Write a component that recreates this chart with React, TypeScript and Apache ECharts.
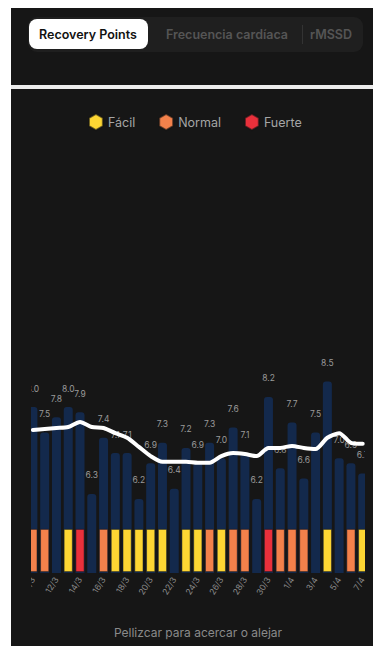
import React, { useEffect, useRef } from "react";
import * as echarts from "echarts";

const dates = [
  "10/3", "11/3", "12/3", "13/3", "14/3", "15/3", "16/3", "17/3", "18/3", "19/3",
  "20/3", "21/3", "22/3", "23/3", "24/3", "25/3", "26/3", "27/3", "28/3", "29/3",
  "30/3", "31/3", "1/4", "2/4", "3/4", "4/4", "5/4", "6/4", "7/4",
];

const recoveryPoints = [
  8.0, 7.5, 7.8, 8.0, 7.9, 6.3, 7.4, 7.1, 7.1, 6.2,
  6.9, 7.3, 6.4, 7.2, 6.9, 7.3, 7.0, 7.6, 7.1, 6.2,
  8.2, 6.8, 7.7, 6.6, 7.5, 8.5, 7.0, 6.9, 6.7,
];

const trend = [
  7.55, 7.57, 7.59, 7.61, 7.71, 7.61, 7.59, 7.49, 7.4, 7.22,
  7.04, 6.93, 6.93, 6.93, 6.91, 6.91, 7.04, 7.1, 7.08, 7.04,
  7.2, 7.2, 7.24, 7.2, 7.18, 7.4, 7.49, 7.3, 7.28,
];

// intensity of each day's session ("" = none)
const intensity = [
  "normal", "normal", "", "facil", "fuerte", "", "normal", "facil", "facil", "facil",
  "facil", "facil", "", "facil", "facil", "normal", "facil", "normal", "normal", "",
  "fuerte", "normal", "normal", "normal", "", "facil", "", "normal", "facil",
];

const levelKeys = ["facil", "normal", "fuerte"];
const levelNames = ["Fácil", "Normal", "Fuerte"];
const tabLabels = ["Recovery Points", "Frecuencia cardíaca", "rMSSD"];
const hint = "Pellizcar para acercar o alejar";

const levelColors = ["#fdd633", "#f3814b", "#e9303b"];
const BG = "#161616";
const FONT = "Inter, Roboto, sans-serif";
const HEX = "path://M0,-1 L0.866,-0.5 L0.866,0.5 L0,1 L-0.866,0.5 L-0.866,-0.5 Z";

export default function App() {
  const ref = useRef<HTMLDivElement>(null);

  useEffect(() => {
    if (!ref.current) return;
    const chart = echarts.init(ref.current, null, { renderer: "svg" });

    const levelSeries = levelKeys.map((k, i) => ({
      name: levelNames[i],
      type: "bar",
      xAxisIndex: 1,
      yAxisIndex: 1,
      stack: "lvl",
      barWidth: 9,
      z: 3,
      itemStyle: { color: levelColors[i], borderColor: "rgba(20,20,20,0.6)", borderWidth: 0.8 },
      data: intensity.map((v) => (v === k ? 1 : "-")),
    }));

    chart.setOption({
      animation: false,
      backgroundColor: BG,
      textStyle: { fontFamily: FONT },
      legend: {
        left: 72,
        top: 100,
        icon: HEX,
        itemWidth: 14,
        itemHeight: 16,
        itemGap: 23,
        selectedMode: false,
        textStyle: { color: "#a5a5a5", fontSize: 12.5, fontFamily: FONT },
        data: levelNames,
      },
      grid: [
        { left: 16, right: 4.4, top: 297, height: 268 },
        { left: 16, right: 4.4, top: 521, height: 43 },
      ],
      xAxis: [
        {
          type: "category",
          gridIndex: 0,
          data: dates,
          axisLine: { show: false },
          axisTick: { show: false },
          axisLabel: {
            interval: 1,
            rotate: 58,
            margin: 5,
            fontSize: 8.5,
            color: "#8a8a8a",
            fontFamily: FONT,
          },
        },
        {
          type: "category",
          gridIndex: 1,
          data: dates,
          axisLine: { show: false },
          axisTick: { show: false },
          axisLabel: { show: false },
        },
      ],
      yAxis: [
        { type: "value", gridIndex: 0, min: 4.75, max: 10, show: false, splitLine: { show: false } },
        { type: "value", gridIndex: 1, min: 0, max: 1, show: false, splitLine: { show: false } },
      ],
      series: [
        {
          name: "Recovery Points",
          type: "bar",
          barWidth: 9,
          z: 2,
          itemStyle: { color: "#13294c", borderRadius: [3, 3, 0, 0] },
          label: {
            show: true,
            position: "top",
            distance: 14,
            fontSize: 8.5,
            color: "#9a9a9a",
            fontFamily: FONT,
            formatter: (p: any) => p.value.toFixed(1),
          },
          data: recoveryPoints,
        },
        ...levelSeries,
        {
          name: "Tendencia",
          type: "line",
          z: 5,
          smooth: 0.25,
          showSymbol: false,
          symbol: "none",
          lineStyle: { color: "#ffffff", width: 4, cap: "round", join: "round" },
          data: trend,
        },
      ],
      graphic: [
        // clip masks for scrolled viewport
        { type: "rect", z: 100, shape: { x: 0, y: 140, width: 20, height: 470 }, style: { fill: BG } },
        { type: "rect", z: 100, shape: { x: 354, y: 140, width: 8, height: 470 }, style: { fill: BG } },
        // segmented control
        { type: "rect", z: 100, shape: { x: 17, y: 9, width: 335, height: 35, r: 9 }, style: { fill: "#1f1f1f" } },
        { type: "rect", z: 101, shape: { x: 18, y: 11, width: 119, height: 30, r: 8 }, style: { fill: "#ffffff" } },
        { type: "rect", z: 101, shape: { x: 291, y: 17, width: 1, height: 19 }, style: { fill: "#333333" } },
        {
          type: "text", z: 102, x: 77, y: 26,
          style: { text: tabLabels[0], fill: "#111111", font: `600 12.5px ${FONT}`, align: "center", verticalAlign: "middle" },
        },
        {
          type: "text", z: 102, x: 216, y: 26,
          style: { text: tabLabels[1], fill: "#555555", font: `600 12.5px ${FONT}`, align: "center", verticalAlign: "middle" },
        },
        {
          type: "text", z: 102, x: 320, y: 26,
          style: { text: tabLabels[2], fill: "#555555", font: `600 12.5px ${FONT}`, align: "center", verticalAlign: "middle" },
        },
        // white divider
        { type: "rect", z: 100, shape: { x: 0, y: 77, width: 362, height: 4 }, style: { fill: "#ececec" } },
        {
          type: "text", z: 102, x: 187, y: 624,
          style: { text: hint, fill: "#8a8a8a", font: `12px ${FONT}`, align: "center", verticalAlign: "middle" },
        },
      ],
    });

    return () => chart.dispose();
  }, []);

  return (
    <div
      ref={ref}
      style={{ position: "fixed", left: 11, top: 8, width: 362, height: 638, background: BG }}
    />
  );
}
